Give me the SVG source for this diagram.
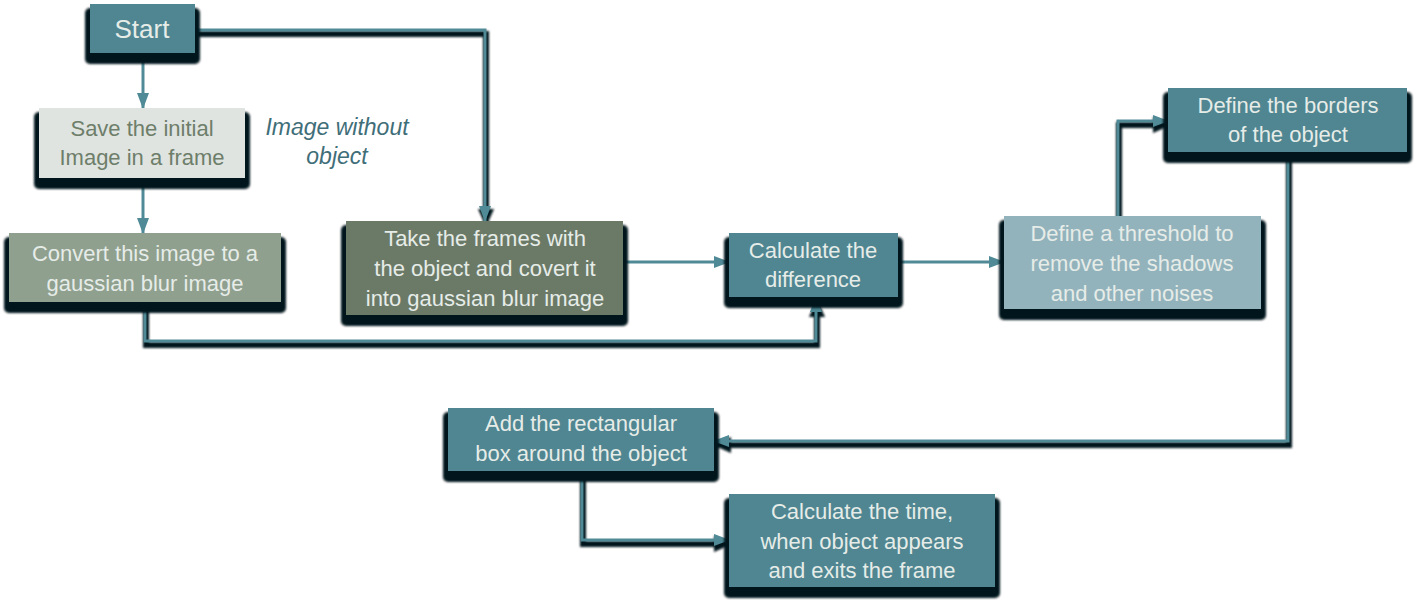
<svg xmlns="http://www.w3.org/2000/svg" width="1416" height="615" viewBox="0 0 1416 615">
<defs>
<style>
.sh{fill:#04141b;filter:url(#blur)}
.lsh{fill:none;stroke:#04141b;stroke-width:6;filter:url(#blur)}
.ln{fill:none;stroke:#4f8a96;stroke-width:3}
.t{font-family:"Liberation Sans",Arial,sans-serif;font-size:22px;text-anchor:middle;fill:#e6ece8}
.teal{fill:#4f8691}
</style>
<filter id="blur" x="-10%" y="-20%" width="120%" height="140%"><feGaussianBlur stdDeviation="1.2"/></filter>
<marker id="ah" markerUnits="userSpaceOnUse" markerWidth="16" markerHeight="16" viewBox="0 0 16 16" refX="15" refY="8" orient="auto"><path d="M0,2 L16,8 L0,14 z" fill="#4f8a96"/></marker>
<marker id="ahs" markerUnits="userSpaceOnUse" markerWidth="18" markerHeight="18" viewBox="0 0 18 18" refX="16" refY="9" orient="auto"><path d="M0,1 L18,9 L0,17 z" fill="#04141b"/></marker>
</defs>
<rect width="1416" height="615" fill="#ffffff"/>
<g id="connectors">
<g transform="translate(1,4)">
<path class="lsh" marker-end="url(#ahs)" d="M143,53 V108"/>
<path class="lsh" marker-end="url(#ahs)" d="M143,178 V233"/>
<path class="lsh" marker-end="url(#ahs)" d="M195,30 H485 V221"/>
<path class="lsh" marker-end="url(#ahs)" d="M145,302 V341 H816 V297"/>
<path class="lsh" marker-end="url(#ahs)" d="M623,262 H729"/>
<path class="lsh" marker-end="url(#ahs)" d="M898,262 H1004"/>
<path class="lsh" marker-end="url(#ahs)" d="M1118,216 V121 H1168"/>
<path class="lsh" marker-end="url(#ahs)" d="M1288,152 V441 H714"/>
<path class="lsh" marker-end="url(#ahs)" d="M582,471 V540 H729"/>
</g>
<path class="ln" marker-end="url(#ah)" d="M143,53 V108"/>
<path class="ln" marker-end="url(#ah)" d="M143,178 V233"/>
<path class="ln" marker-end="url(#ah)" d="M195,30 H485 V221"/>
<path class="ln" marker-end="url(#ah)" d="M145,302 V341 H816 V297"/>
<path class="ln" marker-end="url(#ah)" d="M623,262 H729"/>
<path class="ln" marker-end="url(#ah)" d="M898,262 H1004"/>
<path class="ln" marker-end="url(#ah)" d="M1118,216 V121 H1168"/>
<path class="ln" marker-end="url(#ah)" d="M1288,152 V441 H714"/>
<path class="ln" marker-end="url(#ah)" d="M582,471 V540 H729"/>
</g>
<g id="start">
<rect class="sh" x="85" y="8" width="115" height="56" rx="5"/>
<rect class="teal" x="90" y="4" width="105" height="49"/>
<text class="t" style="font-size:26px" x="142" y="38">Start</text>
</g>
<g id="save">
<rect class="sh" x="34" y="112" width="216" height="77" rx="5"/>
<rect x="39" y="108" width="206" height="70" fill="#dfe4e1"/>
<text class="t" style="fill:#6e7e6a"><tspan x="142" y="136">Save the initial</tspan><tspan x="142" y="165">Image in a frame</tspan></text>
</g>
<g id="note">
<text class="t" style="fill:#3f6e79;font-style:italic;font-size:23px"><tspan x="337" y="135">Image without</tspan><tspan x="337" y="164">object</tspan></text>
</g>
<g id="convert">
<rect class="sh" x="4" y="237" width="282" height="76" rx="5"/>
<rect x="9" y="233" width="272" height="69" fill="#8fa08e"/>
<text class="t"><tspan x="145" y="261">Convert this image to a</tspan><tspan x="145" y="291">gaussian blur image</tspan></text>
</g>
<g id="take">
<rect class="sh" x="341" y="225" width="287" height="101" rx="5"/>
<rect x="346" y="221" width="277" height="94" fill="#6b7a67"/>
<text class="t"><tspan x="485" y="246">Take the frames with</tspan><tspan x="485" y="276">the object and covert it</tspan><tspan x="485" y="306">into gaussian blur image</tspan></text>
</g>
<g id="calc">
<rect class="sh" x="724" y="237" width="179" height="71" rx="5"/>
<rect class="teal" x="729" y="233" width="169" height="64"/>
<text class="t"><tspan x="813" y="258">Calculate the</tspan><tspan x="813" y="287">difference</tspan></text>
</g>
<g id="threshold">
<rect class="sh" x="999" y="220" width="267" height="100" rx="5"/>
<rect x="1004" y="216" width="257" height="93" fill="#93b3bc"/>
<text class="t"><tspan x="1132" y="241">Define a threshold to</tspan><tspan x="1132" y="271">remove the shadows</tspan><tspan x="1132" y="301">and other noises</tspan></text>
</g>
<g id="borders">
<rect class="sh" x="1163" y="92" width="249" height="71" rx="5"/>
<rect class="teal" x="1168" y="88" width="239" height="64"/>
<text class="t"><tspan x="1288" y="113">Define the borders</tspan><tspan x="1288" y="142">of the object</tspan></text>
</g>
<g id="add">
<rect class="sh" x="443" y="412" width="276" height="70" rx="5"/>
<rect class="teal" x="448" y="408" width="266" height="63"/>
<text class="t"><tspan x="581" y="431">Add the rectangular</tspan><tspan x="581" y="461">box around the object</tspan></text>
</g>
<g id="time">
<rect class="sh" x="724" y="498" width="276" height="100" rx="5"/>
<rect class="teal" x="729" y="494" width="266" height="93"/>
<text class="t"><tspan x="862" y="519">Calculate the time,</tspan><tspan x="862" y="549">when object appears</tspan><tspan x="862" y="578">and exits the frame</tspan></text>
</g>
</svg>
